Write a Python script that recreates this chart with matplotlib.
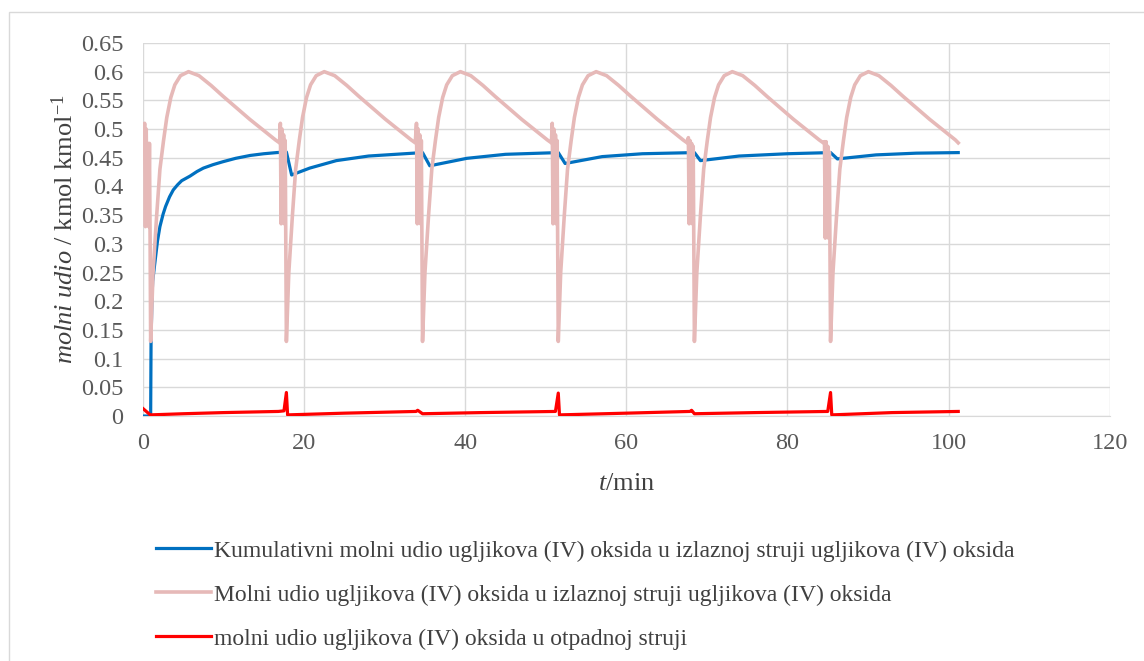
import matplotlib
matplotlib.use("Agg")
import matplotlib.pyplot as plt
from matplotlib.patches import Rectangle

plt.rcParams['font.family'] = ['Liberation Serif', 'DejaVu Serif']
plt.rcParams['mathtext.fontset'] = 'custom'
plt.rcParams['mathtext.rm'] = 'Liberation Serif'
plt.rcParams['mathtext.it'] = 'Liberation Serif:italic'

# ---------------------------------------------------------------------------
#       DATA
# ---------------------------------------------------------------------------

# kumulativni udio CO2 u izlaznoj struji CO2
t_cum = [0, 0.95, 1.0, 1.1, 1.2, 1.5, 1.8, 2.1, 2.5, 2.8, 3.3, 3.76, 4.3, 4.8, 5.83, 6.7, 7.5, 8.7, 9.9,
         11.5, 13.3, 15, 16.6, 17.8,
         18.45, 20.7, 24, 28, 34.7, 35.6, 40.2, 45, 51.55, 52.4, 57, 62, 68.45, 69.2, 74, 80,
         85.35, 86.2, 91, 96, 101.2]
y_cum = [0, 0, 0.13, 0.2, 0.235, 0.27, 0.305, 0.33, 0.352, 0.365, 0.382, 0.394, 0.403, 0.41, 0.418, 0.426,
         0.432, 0.438, 0.443, 0.449, 0.454, 0.457, 0.459, 0.46,
         0.42, 0.432, 0.445, 0.453, 0.459, 0.436, 0.449, 0.456, 0.459, 0.44, 0.452, 0.457, 0.459, 0.445, 0.453, 0.457,
         0.459, 0.448, 0.455, 0.458, 0.459]

# udio CO2 u izlaznoj struji CO2
t_out = [0.1, 0.2, 0.3, 0.4, 0.5, 0.6, 0.7, 0.8, 0.88, 0.95,
         1.25, 1.7, 2.1, 2.55, 2.95, 3.45, 3.95, 4.65, 5.65, 6.95, 8.45, 9.95, 13.25, 16.45, 16.95,
         17.05, 17.15, 17.25, 17.35, 17.45, 17.55, 17.65, 17.72, 17.8,
         18.1, 18.55, 18.95, 19.4, 19.8, 20.3, 20.8, 21.5, 22.5, 23.8, 25.3, 26.8, 30.1, 33.3, 33.8,
         33.95, 34.05, 34.15, 34.25, 34.35, 34.45, 34.55, 34.62, 34.7,
         35.0, 35.45, 35.85, 36.3, 36.7, 37.2, 37.7, 38.4, 39.4, 40.7, 42.2, 43.7, 47.0, 50.2, 50.7,
         50.8, 50.9, 51.0, 51.1, 51.2, 51.3, 51.4, 51.47, 51.55,
         51.85, 52.3, 52.7, 53.15, 53.55, 54.05, 54.55, 55.25, 56.25, 57.55, 59.05, 60.55, 63.85, 67.05, 67.55,
         67.7, 67.8, 67.9, 68.0, 68.1, 68.2, 68.3, 68.37, 68.45,
         68.75, 69.2, 69.6, 70.05, 70.45, 70.95, 71.45, 72.15, 73.15, 74.45, 75.95, 77.45, 80.75, 83.95, 84.45,
         84.6, 84.7, 84.8, 84.9, 85.0, 85.1, 85.2, 85.27, 85.35,
         85.65, 86.1, 86.5, 86.95, 87.35, 87.85, 88.35, 89.05, 90.05, 91.35, 92.85, 94.35, 97.65, 100.85, 101.2]
y_out = [0.48, 0.51, 0.33, 0.50, 0.34, 0.475, 0.33, 0.475, 0.31, 0.13,
         0.25, 0.35, 0.43, 0.48, 0.52, 0.555, 0.577, 0.593, 0.6, 0.593, 0.576, 0.557, 0.517, 0.481, 0.476,
         0.51, 0.335, 0.50, 0.34, 0.49, 0.335, 0.48, 0.32, 0.13,
         0.25, 0.35, 0.43, 0.48, 0.52, 0.555, 0.577, 0.593, 0.6, 0.593, 0.576, 0.557, 0.517, 0.481, 0.476,
         0.51, 0.335, 0.50, 0.34, 0.49, 0.335, 0.48, 0.32, 0.13,
         0.25, 0.35, 0.43, 0.48, 0.52, 0.555, 0.577, 0.593, 0.6, 0.593, 0.576, 0.557, 0.517, 0.481, 0.476,
         0.51, 0.335, 0.50, 0.34, 0.49, 0.335, 0.48, 0.32, 0.13,
         0.25, 0.35, 0.43, 0.48, 0.52, 0.555, 0.577, 0.593, 0.6, 0.593, 0.576, 0.557, 0.517, 0.481, 0.476,
         0.485, 0.335, 0.48, 0.34, 0.475, 0.335, 0.47, 0.32, 0.13,
         0.25, 0.35, 0.43, 0.48, 0.52, 0.555, 0.577, 0.593, 0.6, 0.593, 0.576, 0.557, 0.517, 0.481, 0.476,
         0.478, 0.31, 0.478, 0.33, 0.47, 0.31, 0.46, 0.3, 0.13,
         0.25, 0.35, 0.43, 0.48, 0.52, 0.555, 0.577, 0.593, 0.6, 0.593, 0.576, 0.557, 0.517, 0.481, 0.476]

# udio CO2 u otpadnoj struji
t_waste = [0, 0.9, 5, 10, 16.8, 17.5, 17.8, 17.95, 25, 33.9, 34.1, 34.7, 42, 51.2, 51.55, 51.7,
           60, 67.9, 68.1, 68.45, 76, 85.0, 85.35, 85.5, 93, 101.2]
y_waste = [0.013, 0.002, 0.004, 0.006, 0.008, 0.009, 0.041, 0.002, 0.005, 0.008, 0.01, 0.004, 0.006, 0.008, 0.04, 0.002,
           0.005, 0.008, 0.01, 0.004, 0.006, 0.008, 0.041, 0.002, 0.006, 0.008]

labels = ['Kumulativni molni udio ugljikova (IV) oksida u izlaznoj struji ugljikova (IV) oksida',
          'Molni udio ugljikova (IV) oksida u izlaznoj struji ugljikova (IV) oksida',
          'molni udio ugljikova (IV) oksida u otpadnoj struji']

# ---------------------------------------------------------------------------
#       PLOT
# ---------------------------------------------------------------------------

fig = plt.figure(figsize=(11.44, 6.61), dpi=100)
ax = fig.add_axes([0.125, 0.3706, 0.845, 0.5644])

ax.plot(t_cum, y_cum, color='#0070c0', lw=2.3, label=labels[0], zorder=3)
ax.plot(t_out, y_out, color='#e6b9b8', lw=2.6, label=labels[1], zorder=4)
ax.plot(t_waste, y_waste, color='#ff0000', lw=2.3, label=labels[2], zorder=5)

ax.set_xlim(0, 120)
ax.set_ylim(0, 0.65)
ax.set_xticks(range(0, 121, 20))
yt = [i * 0.05 for i in range(14)]
ax.set_yticks(yt)
ax.set_yticklabels(['0'] + ['%g' % round(v, 2) for v in yt[1:]])
ax.grid(True, color='#d9d9d9', lw=1)
ax.set_axisbelow(True)
for s in ['top', 'right', 'left']:
    ax.spines[s].set_visible(False)
ax.spines['bottom'].set_color('#d9d9d9')
ax.tick_params(axis='y', length=0, labelsize=17.5, colors='#595959', pad=14)
ax.tick_params(axis='x', length=0, labelsize=17.5, colors='#595959', pad=12)

ax.set_xlabel(r'$\it{t}$/min', fontsize=19, color='#404040', labelpad=14)
ax.set_ylabel(r'$\it{molni\ udio}$ / kmol kmol$^{-1}$', fontsize=19, color='#404040', labelpad=2)

leg = fig.legend(loc='upper left', bbox_to_anchor=(0.128, 0.197), frameon=False, fontsize=17,
                 handlelength=2.35, handletextpad=0.1, labelspacing=0.95, borderaxespad=0)
for txt in leg.get_texts():
    txt.set_color('#404040')

fig.patches.append(Rectangle((0.008, -0.01), 1.1, 0.992, transform=fig.transFigure,
                             fill=False, edgecolor='#d9d9d9', lw=1))

fig.savefig('out.png', dpi=100)
